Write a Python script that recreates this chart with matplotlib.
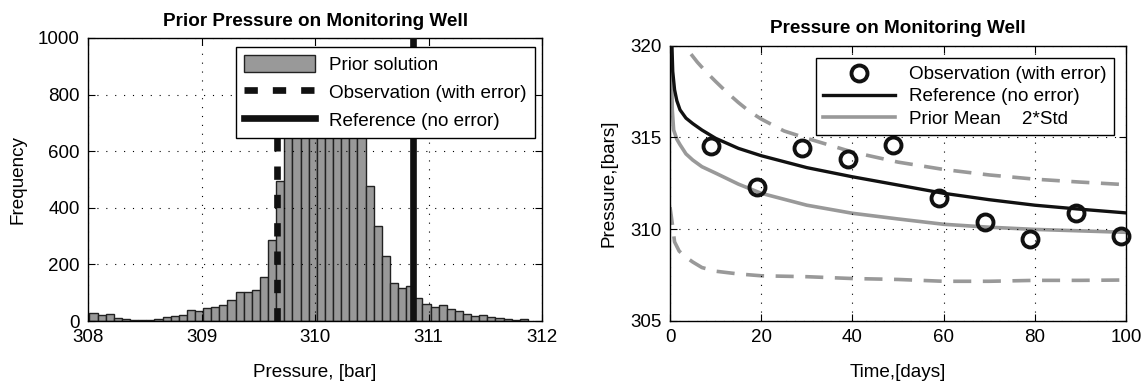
import numpy as np
import matplotlib
matplotlib.use("Agg")
import matplotlib.pyplot as plt
from matplotlib.lines import Line2D
from matplotlib.patches import Patch

plt.rcParams['font.family'] = ['Liberation Sans', 'DejaVu Sans']

# ---------------- data: left panel (histogram) ----------------
hist_first_edge = 308.01
hist_bin_width = 0.0716
hist_counts = [29, 22, 25, 11, 7, 5, 5, 5, 7, 14, 16, 20, 40, 36, 47, 51, 55, 75,
               103, 103, 108, 154, 285, 496,
               690, 790, 870, 920, 940, 930, 890, 820, 740, 665,
               478, 334, 229, 134, 118, 122,
               80, 60, 50, 58, 41, 37, 24, 19, 22, 13, 9, 8, 4, 7]
obs_pressure = 309.66
ref_pressure = 310.86
left_xticks = [308, 309, 310, 311, 312]
left_yticks = [0, 200, 400, 600, 800, 1000]

# ---------------- data: right panel (time series) ----------------
obs_days = [9, 19, 29, 39, 49, 59, 69, 79, 89, 99]
obs_values = [314.55, 312.31, 314.4, 313.82, 314.58, 311.67, 310.36, 309.45, 310.85, 309.64]

ref_days = [0.3, 0.6, 1.0, 1.5, 2.2, 3.5, 5, 7, 10, 15, 20, 30, 40, 50, 60, 70, 80, 90, 100]
ref_values = [321.0, 318.6, 317.6, 317.0, 316.5, 316.05, 315.75, 315.4, 314.95, 314.4,
              314.0, 313.35, 312.85, 312.4, 311.95, 311.6, 311.3, 311.08, 310.88]

mean_days = [0.2, 0.5, 0.8, 1.5, 2.2, 3.5, 5, 7, 10, 15, 20, 30, 40, 50, 60, 70, 80, 90, 100]
mean_values = [321.0, 316.5, 315.4, 314.9, 314.6, 314.1, 313.76, 313.4, 313.05, 312.45,
               311.95, 311.3, 310.86, 310.55, 310.26, 310.1, 309.98, 309.9, 309.82]

upper_days = [2.0, 3.3, 4.2, 6, 8, 10, 12.5, 15, 17.5, 20, 25, 30, 40, 50, 60, 70, 80, 90, 100]
upper_values = [321.0, 320.0, 319.67, 319.1, 318.55, 318.05, 317.45, 316.9, 316.4, 316.0,
                315.35, 314.95, 314.2, 313.65, 313.25, 312.95, 312.72, 312.56, 312.42]

lower_days = [0, 0.5, 1, 2, 3.3, 5, 7, 10, 15, 20, 30, 40, 50, 60, 70, 80, 90, 100]
lower_values = [311.2, 310.3, 309.3, 308.8, 308.5, 308.2, 307.9, 307.7, 307.55, 307.45,
                307.4, 307.3, 307.25, 307.15, 307.15, 307.2, 307.2, 307.22]

right_xticks = [0, 20, 40, 60, 80, 100]
right_yticks = [305, 310, 315, 320]

# ---------------- figure ----------------
W, H = 1146, 387
fig = plt.figure(figsize=(W / 100, H / 100), dpi=100)

def px_axes(x0, y0, x1, y1):
    return fig.add_axes([x0 / W, 1 - y1 / H, (x1 - x0) / W, (y1 - y0) / H])

GRAY = '#999999'
TICK_FS = 13.5
LABEL_FS = 13.6
TITLE_FS = 13.6
GRID_KW = dict(color='black', linewidth=0.8, linestyle=(0, (1, 7)))
GDASH = (0, (5.0, 3.2))

def style_axes(ax):
    ax.tick_params(direction='in', length=5, width=0.8, top=True, right=True,
                   labelsize=TICK_FS, pad=6)
    for s in ax.spines.values():
        s.set_linewidth(1.0)
    ax.grid(True, **GRID_KW)
    ax.set_axisbelow(False)

# ---- left panel ----
ax1 = px_axes(88.3, 38, 542, 321)
edges = hist_first_edge + hist_bin_width * np.arange(len(hist_counts) + 1)
ax1.bar(edges[:-1], hist_counts, width=np.diff(edges), align='edge',
        color=GRAY, edgecolor='#222222', linewidth=1.0, zorder=2)
ax1.axvline(obs_pressure, color='#111111', linewidth=4.8, linestyle=(0, (2.0, 2.25)), zorder=3)
ax1.axvline(ref_pressure, color='#111111', linewidth=4.8, zorder=3)
ax1.set_xlim(308, 312)
ax1.set_ylim(0, 1000)
ax1.set_xticks(left_xticks)
ax1.set_yticks(left_yticks)
style_axes(ax1)
ax1.set_xlabel('Pressure, [bar]', fontsize=LABEL_FS, labelpad=13)
ax1.set_ylabel('Frequency', fontsize=LABEL_FS, labelpad=8)
ax1.set_title('Prior Pressure on Monitoring Well', fontsize=TITLE_FS, fontweight='bold', pad=9)

h1 = [Patch(facecolor=GRAY, edgecolor='#222222', linewidth=1.0),
      Line2D([], [], color='#111111', linewidth=4.8, linestyle=(0, (2.0, 2.25))),
      Line2D([], [], color='#111111', linewidth=4.8)]
leg1 = ax1.legend(h1, ['Prior solution', 'Observation (with error)', 'Reference (no error)'],
                  loc='upper right', bbox_to_anchor=(0.9846, 0.968), fontsize=LABEL_FS,
                  frameon=True, fancybox=False, framealpha=1, edgecolor='black',
                  handlelength=3.8, handleheight=1.0, handletextpad=0.74, labelspacing=0.47,
                  borderpad=0.43, borderaxespad=0.0)
leg1.get_frame().set_linewidth(1.0)
leg1.set_zorder(5)

# ---- right panel ----
ax2 = px_axes(670, 45.7, 1126, 320.7)
ax2.plot(upper_days, upper_values, color=GRAY, linewidth=2.6, linestyle=GDASH, zorder=2)
ax2.plot(lower_days, lower_values, color=GRAY, linewidth=2.6, linestyle=GDASH, zorder=2)
ax2.plot(mean_days, mean_values, color=GRAY, linewidth=2.6, zorder=2)
ax2.plot(ref_days, ref_values, color='#111111', linewidth=2.4, zorder=3)
ax2.plot(obs_days, obs_values, linestyle='none', marker='o', markersize=11.5,
         markerfacecolor='none', markeredgecolor='#111111', markeredgewidth=2.8, zorder=4,
         clip_on=False)
ax2.set_xlim(0, 100)
ax2.set_ylim(305, 320)
ax2.set_xticks(right_xticks)
ax2.set_yticks(right_yticks)
style_axes(ax2)
ax2.set_xlabel('Time,[days]', fontsize=LABEL_FS, labelpad=13)
ax2.set_ylabel('Pressure,[bars]', fontsize=LABEL_FS, labelpad=9)
ax2.set_title('Pressure on Monitoring Well', fontsize=TITLE_FS, fontweight='bold', pad=9)

h2 = [Line2D([], [], linestyle='none', marker='o', markersize=11.5, markerfacecolor='none',
             markeredgecolor='#111111', markeredgewidth=2.8),
      Line2D([], [], color='#111111', linewidth=2.4),
      Line2D([], [], color=GRAY, linewidth=2.6)]
leg2 = ax2.legend(h2, ['Observation (with error)', 'Reference (no error)', 'Prior Mean    2*Std'],
                  loc='upper right', bbox_to_anchor=(0.9737, 0.954), fontsize=LABEL_FS,
                  frameon=True, fancybox=False, framealpha=1, edgecolor='black',
                  handlelength=3.8, handletextpad=0.74, labelspacing=0.27,
                  borderpad=0.4, borderaxespad=0.0)
leg2.get_frame().set_linewidth(1.0)
leg2.set_zorder(5)

fig.savefig('out.png', dpi=100)
